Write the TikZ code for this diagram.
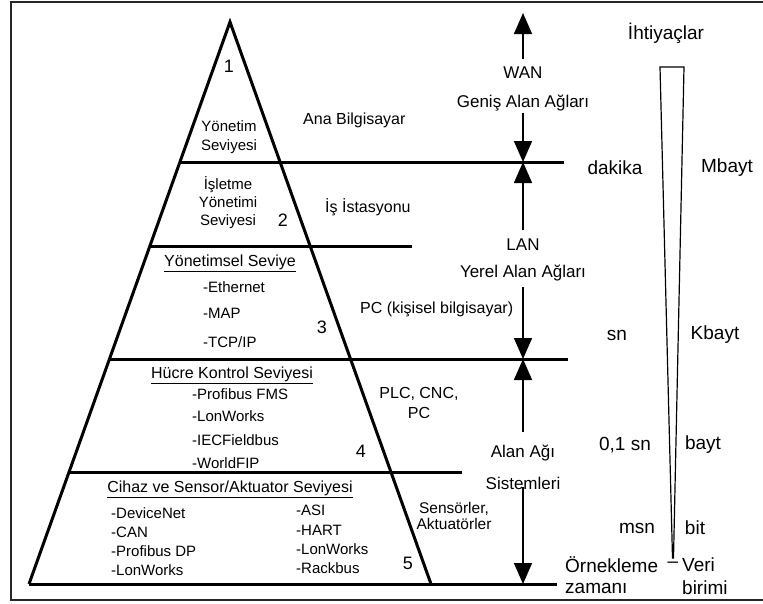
\documentclass[tikz,border=0pt]{standalone}
\usepackage{fontspec}
\setmainfont{Liberation Sans}
\usetikzlibrary{arrows.meta}
\begin{document}
\begin{tikzpicture}[x=1pt,y=-1pt,
  level/.style={line width=3pt},
  netarrow/.style={line width=1.5pt,-{Triangle[width=18pt,length=21pt]}},
  listtxt/.style={inner sep=0pt,anchor=west,font=\fontsize{15}{18}\selectfont},
  headtxt/.style={inner sep=0pt,font=\fontsize{16}{19}\selectfont},
  leveltxt/.style={inner sep=0pt,align=center,font=\fontsize{15}{19}\selectfont},
  sidetxt/.style={inner sep=0pt,font=\fontsize{16}{20}\selectfont},
  nettxt/.style={inner sep=0pt,font=\fontsize{17}{20}\selectfont},
  bigtxt/.style={inner sep=0pt,font=\fontsize{19}{23}\selectfont},
  numtxt/.style={inner sep=0pt,font=\fontsize{18}{21}\selectfont}]
\useasboundingbox (0,0) rectangle (763,603);

% frame
\draw[line width=1.8pt,black!85] (766,2) -- (11,2) -- (11,600) -- (766,600);

% pyramid outline
\coordinate (apex) at (230,22);
\coordinate (baseL) at (29,584);
\coordinate (baseR) at (431,584);
\draw[level,line join=miter] (baseL) -- (apex) -- (baseR);

% level separators
\draw[level] (179,162) -- (564,162);
\draw[level] (149,246) -- (412,246);
\draw[level] (109,359) -- (568,359);
\draw[level] (69,472) -- (462,472);
\draw[level] (baseL) -- (557,584);

% level 1
\node[numtxt] (n1) at (229,66) {1};
\node[leveltxt] (l1) at (229,137) {Yönetim\\Seviyesi};
\node[sidetxt,anchor=west] (s1) at (303,120) {Ana Bilgisayar};

% level 2
\node[leveltxt,font=\fontsize{15}{18}\selectfont] (l2) at (228,203) {İşletme\\Yönetimi\\Seviyesi};
\node[numtxt] (n2) at (283,220) {2};
\node[sidetxt,anchor=west] (s2) at (325,207) {İş İstasyonu};

% level 3
\node[headtxt] (h3) at (230,263) {\underline{Yönetimsel Seviye}};
\node[listtxt] (e3a) at (203,287) {-Ethernet};
\node[listtxt] (e3b) at (203,313) {-MAP};
\node[listtxt] (e3c) at (203,342) {-TCP/IP};
\node[numtxt] (n3) at (322,327) {3};
\node[sidetxt,anchor=west] (s3) at (360,309) {PC (kişisel bilgisayar)};

% level 4
\node[headtxt] (h4) at (232,375) {\underline{Hücre Kontrol Seviyesi}};
\node[listtxt] (e4a) at (192,394) {-Profibus FMS};
\node[listtxt] (e4b) at (192,416) {-LonWorks};
\node[listtxt] (e4c) at (192,440) {-IECFieldbus};
\node[listtxt] (e4d) at (192,463) {-WorldFIP};
\node[numtxt] (n4) at (361,451) {4};
\node[sidetxt,align=center] (s4) at (419,403) {PLC, CNC,\\PC};

% level 5
\node[headtxt] (h5) at (230,489) {\underline{Cihaz ve Sensor/Aktuator Seviyesi}};
\node[listtxt] (e5a) at (111,513) {-DeviceNet};
\node[listtxt] (e5b) at (111,532) {-CAN};
\node[listtxt] (e5c) at (111,551) {-Profibus DP};
\node[listtxt] (e5d) at (111,570) {-LonWorks};
\node[listtxt] (e5e) at (296,510) {-ASI};
\node[listtxt] (e5f) at (296,530) {-HART};
\node[listtxt] (e5g) at (296,549) {-LonWorks};
\node[listtxt] (e5h) at (296,568) {-Rackbus};
\node[numtxt] (n5) at (408,563) {5};
\node[sidetxt,align=center,font=\fontsize{15.5}{16}\selectfont] (s5) at (454,516) {Sensörler,\\Aktuatörler};

% network ranges
\coordinate (wanTip) at (523,13);
\coordinate (wanLow) at (523,162);
\coordinate (lanLow) at (523,359);
\coordinate (fieldLow) at (523,584);
\node[nettxt] (wan) at (523,73) {WAN};
\node[nettxt] (wanname) at (523,103) {Geniş Alan Ağları};
\node[nettxt] (lan) at (523,245) {LAN};
\node[nettxt] (lanname) at (523,273) {Yerel Alan Ağları};
\node[nettxt] (field) at (523,453) {Alan Ağı};
\node[nettxt] (fieldname) at (523,483) {Sistemleri};
\coordinate (wanA) at (523,59);
\coordinate (wanB) at (523,113);
\coordinate (lanA) at (523,230);
\coordinate (lanB) at (523,287);
\coordinate (fieldA) at (523,432);
\coordinate (fieldB) at (523,487);
\draw[netarrow] (wanA) -- (wanTip);
\draw[netarrow] (wanB) -- (wanLow);
\draw[netarrow] (lanA) -- (wanLow);
\draw[netarrow] (lanB) -- (lanLow);
\draw[netarrow] (fieldA) -- (lanLow);
\draw[netarrow] (fieldB) -- (fieldLow);

% requirements wedge
\node[bigtxt] (req) at (666,33) {İhtiyaçlar};
\draw[line width=1.2pt,line join=miter] (660,67) -- (684,67) -- (673.5,558) -- (672.5,558) -- cycle;
\node[bigtxt] (t1) at (615,168) {dakika};
\node[bigtxt] (d1) at (727,168) {Mbayt};
\node[bigtxt] (t2) at (617,335) {sn};
\node[bigtxt] (d2) at (715,335) {Kbayt};
\node[bigtxt] (t3) at (625,445) {0,1 sn};
\node[bigtxt] (d3) at (703,445) {bayt};
\node[bigtxt] (t4) at (637,528) {msn};
\node[bigtxt] (d4) at (695,528) {bit};
\node[bigtxt,anchor=west] (tA) at (565,565) {Örnekleme};
\node[bigtxt] (dash) at (673,565) {–};
\node[bigtxt,anchor=west] (dA) at (682,565) {Veri};
\node[bigtxt,anchor=west] (tB) at (565,588) {zamanı};
\node[bigtxt,anchor=west] (dB) at (682,588) {birimi};
\end{tikzpicture}
\end{document}
